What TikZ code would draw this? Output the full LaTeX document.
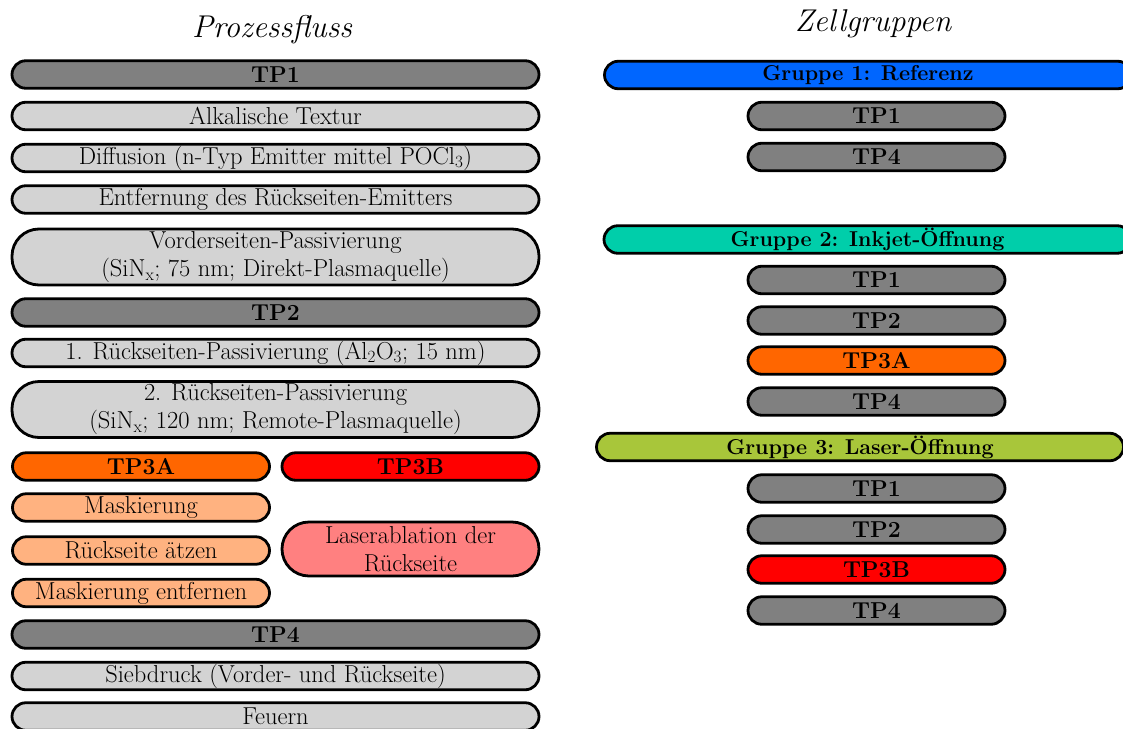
\documentclass[tikz,border=0pt]{standalone}
\usepackage{fontspec}
\definecolor{stagegray}{RGB}{128,128,128}
\definecolor{stepgray}{RGB}{211,211,211}
\definecolor{tpAorange}{RGB}{255,102,0}
\definecolor{tpBred}{RGB}{255,0,0}
\definecolor{steporange}{RGB}{255,178,128}
\definecolor{steppink}{RGB}{255,128,128}
\definecolor{grpblue}{RGB}{0,102,255}
\definecolor{grpteal}{RGB}{0,206,170}
\definecolor{grpolive}{RGB}{168,198,58}
\begin{document}
\begin{tikzpicture}[x=1pt,y=-1pt,
  pill/.style={draw=black, line width=2.8pt, rounded corners=13.75pt,
    minimum height=27.5pt, inner sep=0pt, align=center,
    font=\fontsize{24.5}{28}\selectfont},
  full/.style={pill, minimum width=527pt},
  half/.style={pill, minimum width=257pt},
  grp/.style={pill, minimum width=527pt, font=\fontsize{21.5}{28}\selectfont\bfseries},
  tall/.style={rounded corners=27pt, minimum height=56pt},
  stage/.style={fill=stagegray, font=\fontsize{23}{28}\selectfont\bfseries},
  stepbox/.style={fill=stepgray},
  title/.style={font=\fontsize{31.5}{34}\selectfont\itshape, inner sep=0pt}
]
\useasboundingbox (0,0) rectangle (1123,728);
\clip (0,0) rectangle (1123,728);

% ---- process flow ----
\node[title] (tL) at (272,30) {Prozessfluss};
\node[full,stage] (pTPa) at (275.5,74.5) {TP1};
\node[full,stepbox] (pAlk) at (275.5,116) {Alkalische Textur};
\node[full,stepbox] (pDif) at (275.5,158) {Diffusion (n-Typ Emitter mittel POCl\textsubscript{3})};
\node[full,stepbox] (pEnt) at (275.5,199.5) {Entfernung des Rückseiten-Emitters};
\node[full,stepbox,tall] (pVor) at (275.5,257) {Vorderseiten-Passivierung\\(SiN\textsubscript{x}; 75 nm; Direkt-Plasmaquelle)};
\node[full,stage] (pTPb) at (275.5,312.5) {TP2};
\node[full,stepbox] (pRa) at (275.5,353) {1. Rückseiten-Passivierung (Al\textsubscript{2}O\textsubscript{3}; 15 nm)};
\node[full,stepbox,tall] (pRb) at (275.5,409.5) {2. Rückseiten-Passivierung\\(SiN\textsubscript{x}; 120 nm; Remote-Plasmaquelle)};
\node[half,stage,fill=tpAorange] (pTPA) at (141,466.5) {TP3A};
\node[half,stage,fill=tpBred] (pTPB) at (410.5,466.5) {TP3B};
\node[half,fill=steporange] (pMa) at (141,507.5) {Maskierung};
\node[half,fill=steporange] (pAe) at (141,550.5) {Rückseite ätzen};
\node[half,fill=steporange] (pMe) at (141,593) {Maskierung entfernen};
\node[half,fill=steppink,tall,minimum height=54pt] (pLa) at (410.5,549) {Laserablation der\\Rückseite};
\node[full,stage] (pTPd) at (275.5,634.5) {TP4};
\node[full,stepbox] (pSie) at (275.5,676) {Siebdruck (Vorder- und Rückseite)};
\node[full,stepbox] (pFeu) at (275.5,716.5) {Feuern};

% ---- cell groups ----
\node[title] (tR) at (873,24) {Zellgruppen};
\node[grp,fill=grpblue] (g1) at (868,75) {Gruppe 1: Referenz};
\node[half,stage] (g1a) at (876.5,116) {TP1};
\node[half,stage] (g1d) at (876.5,157) {TP4};
\node[grp,fill=grpteal] (g2) at (867.5,239.5) {Gruppe 2: Inkjet-Öffnung};
\node[half,stage] (g2a) at (876.5,280) {TP1};
\node[half,stage] (g2b) at (876.5,320.5) {TP2};
\node[half,stage,fill=tpAorange] (g2c) at (876.5,360.5) {TP3A};
\node[half,stage] (g2d) at (876.5,401.5) {TP4};
\node[grp,fill=grpolive] (g3) at (860,447) {Gruppe 3: Laser-Öffnung};
\node[half,stage] (g3a) at (876.5,488.5) {TP1};
\node[half,stage] (g3b) at (876.5,529.5) {TP2};
\node[half,stage,fill=tpBred] (g3c) at (876.5,569.5) {TP3B};
\node[half,stage] (g3d) at (876.5,610.5) {TP4};
\end{tikzpicture}
\end{document}
